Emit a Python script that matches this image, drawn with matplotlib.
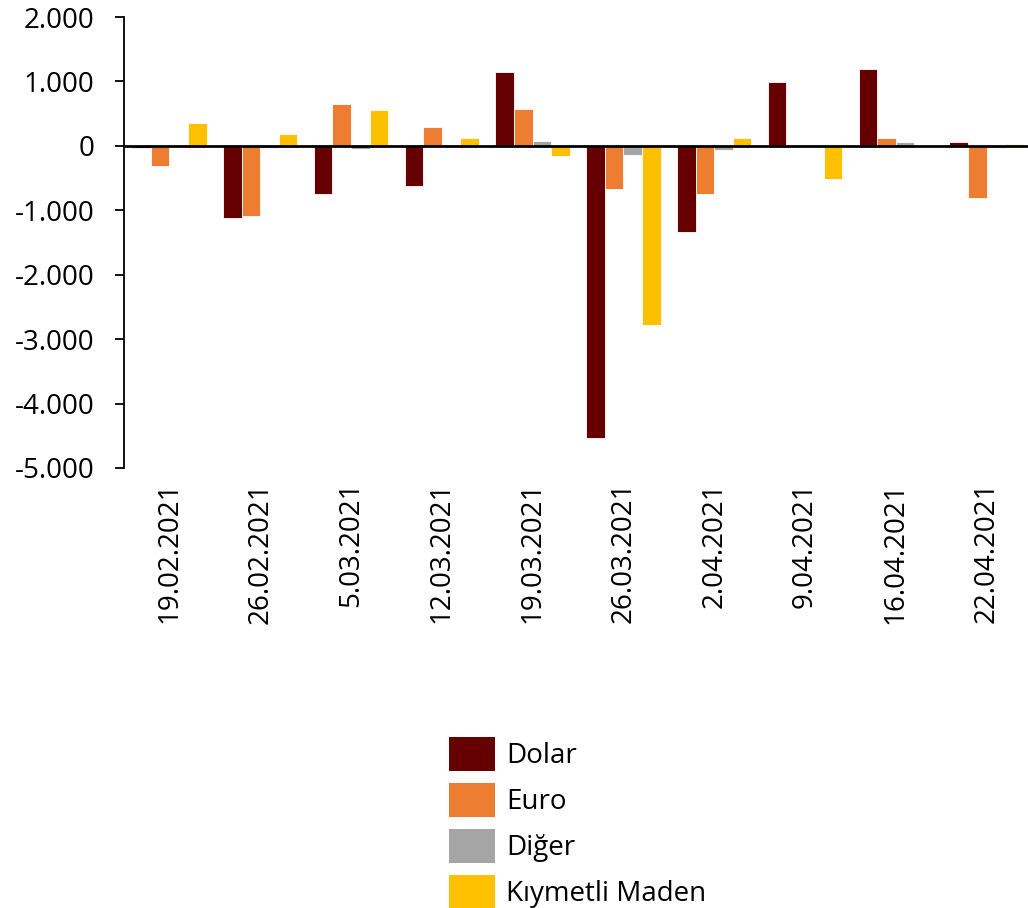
import matplotlib
matplotlib.use("Agg")
import matplotlib.pyplot as plt
import numpy as np
from matplotlib.ticker import FuncFormatter
from matplotlib.patches import Patch

plt.rcParams['font.family'] = ['Open Sans', 'DejaVu Sans']

dates = ["19.02.2021", "26.02.2021", "5.03.2021", "12.03.2021", "19.03.2021",
         "26.03.2021", "2.04.2021", "9.04.2021", "16.04.2021", "22.04.2021"]
dolar = [-35, -1112, -749, -620, 1149, -4534, -1340, 989, 1191, 62]
euro = [-318, -1092, 651, 292, 574, -668, -745, -25, 120, -807]
diger = [-8, -35, -46, 10, 77, -140, -62, -20, 67, -40]
kiymetli = [350, 185, 554, 118, -158, -2780, 124, -512, -10, 30]

series_names = ["Dolar", "Euro", "Diğer", "Kıymetli Maden"]
colors = ["#660000", "#ED7D31", "#A5A5A5", "#FFC000"]

fig = plt.figure(figsize=(10.28, 9.08), dpi=100)
ax = fig.add_axes([124/1028, 1 - 468/908, (1032-124)/1028, (468-17)/908])

x = np.arange(len(dates))
w = 0.205
for i, (vals, c) in enumerate(zip([dolar, euro, diger, kiymetli], colors)):
    ax.bar(x + (i - 1.5) * w, vals, width=w, color=c, edgecolor='white', linewidth=0.6, zorder=2)

ax.set_xlim(-0.5, len(dates) - 0.5)
ax.set_ylim(-5000, 2000)
ax.set_yticks(np.arange(-5000, 2001, 1000))
ax.yaxis.set_major_formatter(FuncFormatter(lambda v, p: f"{int(v):,}".replace(",", ".")))
ax.tick_params(axis='y', length=6.5, width=1.3, pad=15, labelsize=20)
ax.set_xticks(x)
ax.set_xticklabels(dates, rotation=90, fontsize=20)
ax.tick_params(axis='x', length=0, pad=10)

for s in ['top', 'right', 'bottom']:
    ax.spines[s].set_visible(False)
ax.spines['left'].set_linewidth(1.3)
ax.axhline(0, color='black', linewidth=2, zorder=3)

handles = [Patch(facecolor=c, edgecolor='none') for c in colors]
fig.legend(handles, series_names, loc='upper left', bbox_to_anchor=(449/1028, 1 - 737/908),
           frameon=False, fontsize=20, handlelength=1.64, handleheight=1.5,
           handletextpad=0.42, labelspacing=0.44, borderpad=0, borderaxespad=0)

fig.savefig("out.png", dpi=100)
